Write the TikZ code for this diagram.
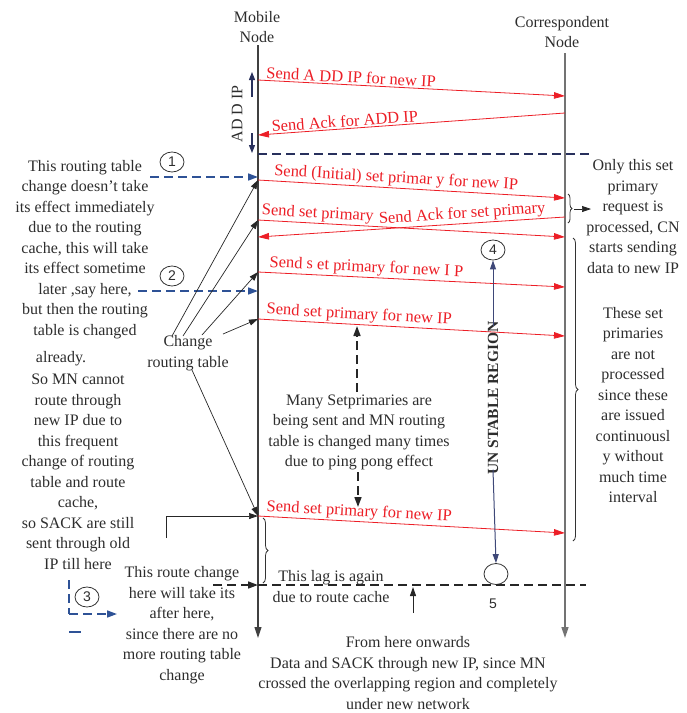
\documentclass[tikz,border=0pt]{standalone}
\usepackage{fontspec}
\setmainfont{Liberation Serif}
\newfontfamily\sansf{Liberation Sans}
\usetikzlibrary{arrows.meta,decorations.pathreplacing,shapes.geometric}
\definecolor{redl}{RGB}{236,30,38}
\definecolor{navyb}{RGB}{46,82,150}
\definecolor{dnavy}{RGB}{40,48,92}
\definecolor{regnavy}{RGB}{62,72,120}
\definecolor{txtc}{RGB}{45,45,45}
\begin{document}
\begin{tikzpicture}[x=1pt,y=-1pt,
  every node/.style={inner sep=0pt},
  tx/.style={text=txtc, font=\fontsize{16}{20.5}\selectfont, align=center},
  msg/.style={draw=redl, line width=0.8pt, -{Triangle[length=11pt,width=6.5pt]}},
  msgback/.style={draw=redl, line width=0.8pt, {Triangle[length=11pt,width=6.5pt]}-},
  lbl/.style={text=redl, font=\fontsize{16.5}{18}\selectfont, sloped, anchor=south west, inner sep=1.5pt},
  bdash/.style={draw=navyb, line width=1.6pt, dash pattern=on 9pt off 5pt},
  bdarrow/.style={bdash, -{Triangle[length=10pt,width=7pt]}},
  kdash/.style={draw=black!85, line width=1.6pt, dash pattern=on 9pt off 5pt},
  kdarrow/.style={kdash, -{Triangle[length=10pt,width=7pt]}},
  thinarr/.style={draw=black!85, line width=0.7pt, -{Triangle[length=9pt,width=6pt]}},
  navyarr/.style={draw=dnavy, line width=1.1pt, -{Triangle[length=8pt,width=6pt]}},
  regarr/.style={draw=regnavy, line width=1pt, -{Triangle[length=9pt,width=6pt]}},
  num/.style={draw=black!80, ellipse, minimum width=24pt, minimum height=20pt, line width=0.8pt, font=\sansf\fontsize{14}{14}\selectfont, text=txtc},
  bracek/.style={draw=black!80, line width=0.8pt, decorate, decoration={brace, amplitude=5pt}},
]
\useasboundingbox (0,0) rectangle (687,713);

% headers
\node[tx] (mnh) at (257,27) {Mobile\\Node};
\node[tx] (cnh) at (562,32) {Correspondent\\Node};

% lifelines
\coordinate (mnTop) at (258,45);
\coordinate (mnBot) at (258,638);
\coordinate (cnTop) at (565,53);
\coordinate (cnBot) at (565,638);
\draw[draw=black!75, line width=1.1pt, -{Triangle[length=11pt,width=7pt]}] (mnTop) -- (mnBot);
\draw[draw=black!55, line width=1.6pt, -{Triangle[length=11pt,width=7pt]}] (cnTop) -- (cnBot);

% message coordinates
\coordinate (m1) at (258,80);  \coordinate (c1) at (565,96);
\coordinate (m2) at (258,135); \coordinate (c2) at (565,113);
\coordinate (m3) at (258,180); \coordinate (c3) at (565,198);
\coordinate (m4) at (258,220); \coordinate (c4) at (565,237);
\coordinate (m5) at (258,237); \coordinate (c5) at (565,217);
\coordinate (m6) at (258,272); \coordinate (c6) at (565,287);
\coordinate (m7) at (258,319); \coordinate (c7) at (565,336);
\coordinate (m8) at (258,516); \coordinate (c8) at (565,533);

\draw[msg] (m1) -- node[lbl,pos=0.02]{Send A DD IP for new IP} (c1);
\draw[msgback] (m2) -- node[lbl,pos=0.04]{Send Ack for ADD IP} (c2);
\draw[msg] (m3) -- node[lbl,pos=0.045]{Send (Initial) set primar y for new IP} (c3);
\draw[msg] (m4) -- node[lbl,pos=0.005]{Send set primary} (c4);
\draw[msgback] (m5) -- node[lbl,pos=0.39]{Send Ack for set primary} (c5);
\draw[msg] (m6) -- node[lbl,pos=0.03]{Send s et primary for new I P} (c6);
\draw[msg] (m7) -- node[lbl,pos=0.02]{Send set primary for new IP} (c7);
\draw[msg] (m8) -- node[lbl,pos=0.02]{Send set primary for new IP} (c8);

% ADD IP
\node[tx, rotate=90] (addip) at (237,114) {AD D IP};
\coordinate (ua) at (252,97); \coordinate (ub) at (252,72);
\coordinate (da) at (252,133); \coordinate (db) at (252,153);
\draw[navyarr] (ua) -- (ub);
\draw[navyarr] (da) -- (db);
\coordinate (hd1) at (258,154); \coordinate (hd2) at (591,154);
\draw[draw=dnavy, line width=1.4pt, dash pattern=on 9pt off 5pt] (hd1) -- (hd2);

% numbered circles and blue dashed arrows
\node[num] (n1) at (172,162) {1};
\node[num] (n2) at (172,276) {2};
\node[num] (n3) at (87,597) {3};
\coordinate (b1s) at (150,177); \coordinate (b1e) at (258,177);
\coordinate (b2s) at (138,291); \coordinate (b2e) at (258,291);
\draw[bdarrow] (b1s) -- (b1e);
\draw[bdarrow] (b2s) -- (b2e);
\coordinate (b3a) at (69,580); \coordinate (b3b) at (69,614); \coordinate (b3c) at (117,614);
\draw[bdash] (b3a) -- (b3b);
\draw[bdarrow] (b3b) -- (b3c);
\coordinate (b3d) at (69,632); \coordinate (b3e) at (81,632);
\draw[draw=navyb, line width=1.6pt] (b3d) -- (b3e);

% left texts
\node[tx] (lt1) at (85,249.5) {This routing table\\change doesn’t take\\its effect immediately\\due to the routing\\cache, this will take\\its effect sometime\\later ,say here,\\but then the routing\\table is changed};
\node[tx] (lt2) at (61,359) {already.};
\node[tx] (lt3) at (78,472) {So MN cannot\\route through\\new IP due to\\this frequent\\change of routing\\table and route\\cache,\\so SACK are still\\sent through old\\IP till here};

% change routing table
\node[tx] (crt) at (188,353) {Change\\routing table};
\coordinate (a1) at (172,336); \coordinate (a2) at (183,336);
\coordinate (a3) at (202,335); \coordinate (a4) at (223,334);
\coordinate (a5) at (192,370);
\draw[thinarr] (a1) -- (m3);
\draw[thinarr] (a2) -- (m4);
\draw[thinarr] (a3) -- (m6);
\draw[thinarr] (a4) -- (m7);
\draw[thinarr] (a5) -- (m8);
\coordinate (el) at (166,538);
\draw[thinarr] (el) |- (m8);

% center text
\node[tx] (many) at (359,432.5) {Many Setprimaries are\\being sent and MN routing\\table is changed many times\\due to ping pong effect};
\coordinate (up1) at (357,392); \coordinate (up2) at (357,326);
\coordinate (dn1) at (358,472); \coordinate (dn2) at (358,507);
\draw[kdarrow] (up1) -- (up2);
\draw[kdarrow] (dn1) -- (dn2);

% unstable region
\node[num] (n4) at (493,250) {4};
\node[draw=black!80, ellipse, minimum width=24pt, minimum height=21pt, line width=0.8pt] (n5) at (496,574) {};
\node[text=txtc, rotate=90, font=\bfseries\fontsize{15.5}{16}\selectfont] (us) at (493,398) {UN STABLE REGION};
\draw[regarr] ([yshift=-5pt]us.east) -- (n4.south);
\draw[regarr] ([yshift=5pt]us.west) -- (n5.north);
\node[font=\sansf\fontsize{14}{14}\selectfont, text=txtc] (five) at (493,604) {5};

% lag line
\coordinate (lg0) at (213,585); \coordinate (lgm) at (258,585); \coordinate (lg1) at (586,585);
\draw[kdarrow] (lg0) -- (lgm);
\draw[kdash] (lgm) -- (lg1);
\node[tx] (lag) at (331,586.5) {This lag is again\\due to route cache};
\coordinate (sa1) at (413,613); \coordinate (sa2) at (413,587);
\draw[draw=black!85, line width=1pt, -{Triangle[length=9pt,width=6pt]}] (sa1) -- (sa2);

% braces
\coordinate (br1a) at (263,518); \coordinate (br1b) at (263,583);
\draw[bracek] (br1a) -- (br1b);
\coordinate (br2a) at (568,194); \coordinate (br2b) at (568,223);
\draw[bracek, decoration={brace, amplitude=4pt}] (br2a) -- (br2b);
\coordinate (br2t) at (574,209); \coordinate (br2e) at (591,209);
\draw[thinarr] (br2t) -- (br2e);
\coordinate (br3a) at (573,238); \coordinate (br3b) at (573,541);
\draw[bracek] (br3a) -- (br3b);

% right texts
\node[tx] (rt1) at (633,216.5) {Only this set\\primary\\request is\\processed, CN\\starts sending\\data to new IP};
\node[tx] (rt2) at (633,405) {These set\\primaries\\are not\\processed\\since these\\are issued\\continuousl\\y without\\much time\\interval};

% bottom texts
\node[tx] (bt1) at (182,625) {This route change\\here will take its\\after here,\\since there are no\\more routing table\\change};
\node[tx] (bt2) at (408,673) {From here onwards\\Data and SACK through new IP, since MN\\crossed the overlapping region and completely\\under new network};
\end{tikzpicture}
\end{document}
